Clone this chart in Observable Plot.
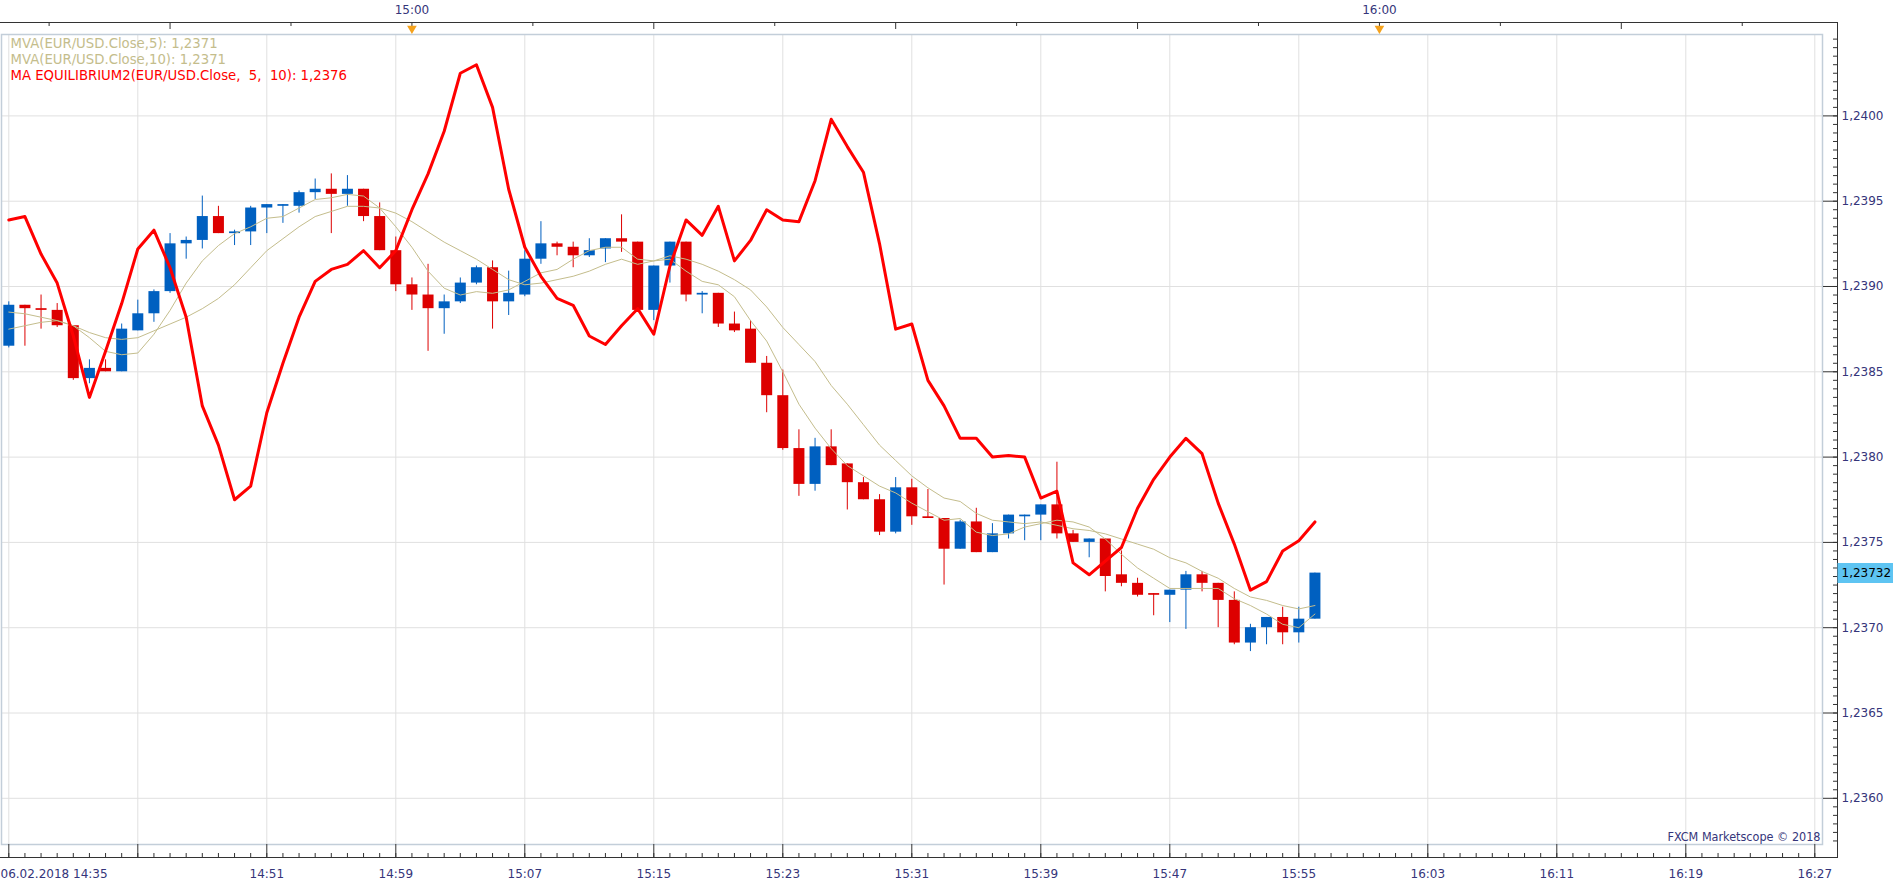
<!DOCTYPE html>
<html><head><meta charset="utf-8">
<script src="https://cdn.jsdelivr.net/npm/d3@7"></script>
<script src="https://cdn.jsdelivr.net/npm/@observablehq/plot@0.6"></script>
<style>
html,body{margin:0;padding:0;background:#fff;overflow:hidden;}
#chart svg{display:block;}
</style></head><body><div id="chart"></div>
<script>
// EUR/USD 1-minute candles, 06.02.2018 from 14:35 (index = minutes after 14:35)
const open = [1.23865,1.23889,1.23887,1.23886,1.23877,1.23846,1.23852,1.23850,1.23874,1.23884,
1.23897,1.23925,1.23927,1.23941,1.23931,1.23932,1.23946,1.23947,1.23947,1.23955,
1.23957,1.23954,1.23957,1.23941,1.23921,1.23901,1.23895,1.23887,1.23891,1.23902,
1.23911,1.23891,1.23895,1.23916,1.23925,1.23923,1.23918,1.23922,1.23928,1.23926,
1.23886,1.23912,1.23926,1.23895,1.23896,1.23878,1.23875,1.23855,1.23836,1.23805,
1.23784,1.23806,1.23796,1.23785,1.23775,1.23756,1.23782,1.23765,1.23764,1.23746,
1.23762,1.23744,1.23755,1.23765,1.23766,1.23772,1.23755,1.23750,1.23752,1.23731,
1.23726,1.23720,1.23719,1.23722,1.23731,1.23726,1.23716,1.23691,1.23700,1.23706,
1.23697,1.23705];
const high = [1.23891,1.23889,1.23895,1.23890,1.23877,1.23857,1.23857,1.23878,1.23892,1.23898,
1.23931,1.23929,1.23953,1.23947,1.23933,1.23947,1.23948,1.23948,1.23956,1.23963,
1.23966,1.23965,1.23957,1.23949,1.23929,1.23905,1.23913,1.23895,1.23905,1.23912,
1.23915,1.23909,1.23921,1.23938,1.23926,1.23926,1.23928,1.23928,1.23942,1.23926,
1.23912,1.23926,1.23926,1.23897,1.23896,1.23885,1.23880,1.23859,1.23851,1.23816,
1.23811,1.23816,1.23796,1.23788,1.23778,1.23788,1.23787,1.23781,1.23764,1.23763,
1.23770,1.23761,1.23766,1.23766,1.23772,1.23797,1.23757,1.23752,1.23752,1.23745,
1.23729,1.23720,1.23722,1.23733,1.23733,1.23726,1.23721,1.23702,1.23706,1.23712,
1.23712,1.23732];
const low = [1.23864,1.23865,1.23875,1.23876,1.23845,1.23843,1.23850,1.23850,1.23874,1.23879,
1.23896,1.23916,1.23922,1.23931,1.23924,1.23924,1.23931,1.23937,1.23943,1.23951,
1.23931,1.23947,1.23938,1.23921,1.23897,1.23886,1.23862,1.23872,1.23890,1.23901,
1.23875,1.23883,1.23894,1.23913,1.23918,1.23911,1.23917,1.23914,1.23920,1.23885,
1.23880,1.23902,1.23891,1.23884,1.23876,1.23873,1.23855,1.23826,1.23804,1.23777,
1.23780,1.23795,1.23769,1.23775,1.23754,1.23755,1.23760,1.23764,1.23725,1.23746,
1.23744,1.23744,1.23752,1.23751,1.23751,1.23752,1.23750,1.23741,1.23721,1.23724,
1.23718,1.23707,1.23703,1.23699,1.23721,1.23700,1.23690,1.23686,1.23690,1.23690,
1.23691,1.23705];
const close = [1.23889,1.23887,1.23886,1.23877,1.23846,1.23852,1.23850,1.23875,1.23884,1.23897,
1.23925,1.23927,1.23941,1.23931,1.23932,1.23946,1.23948,1.23948,1.23955,1.23957,
1.23954,1.23957,1.23941,1.23921,1.23901,1.23895,1.23887,1.23891,1.23902,1.23911,
1.23891,1.23896,1.23916,1.23925,1.23923,1.23918,1.23921,1.23928,1.23926,1.23886,
1.23912,1.23926,1.23895,1.23896,1.23878,1.23874,1.23855,1.23836,1.23805,1.23784,
1.23806,1.23795,1.23785,1.23775,1.23756,1.23782,1.23765,1.23764,1.23746,1.23762,
1.23744,1.23755,1.23766,1.23766,1.23772,1.23755,1.23750,1.23752,1.23730,1.23726,
1.23719,1.23719,1.23722,1.23731,1.23726,1.23716,1.23691,1.23700,1.23706,1.23697,
1.23705,1.23732];
const mva5 = [1.23875,1.23877,1.23879,1.23880,1.23877,1.23870,1.23862,1.23860,1.23861,1.23872,
1.23886,1.23902,1.23915,1.23924,1.23931,1.23935,1.23940,1.23941,1.23946,1.23951,
1.23952,1.23954,1.23953,1.23946,1.23935,1.23923,1.23909,1.23899,1.23895,1.23897,
1.23896,1.23898,1.23903,1.23908,1.23910,1.23916,1.23921,1.23923,1.23923,1.23916,
1.23915,1.23916,1.23909,1.23903,1.23901,1.23894,1.23880,1.23868,1.23850,1.23831,
1.23817,1.23805,1.23795,1.23789,1.23783,1.23779,1.23773,1.23768,1.23763,1.23764,
1.23756,1.23754,1.23755,1.23759,1.23761,1.23763,1.23762,1.23759,1.23752,1.23743,
1.23735,1.23729,1.23723,1.23723,1.23723,1.23723,1.23717,1.23713,1.23708,1.23702,
1.23700,1.23708];
const mva10 = [1.23885,1.23884,1.23882,1.23880,1.23877,1.23873,1.23870,1.23869,1.23870,1.23874,
1.23878,1.23882,1.23887,1.23893,1.23901,1.23911,1.23921,1.23928,1.23935,1.23941,
1.23944,1.23947,1.23947,1.23946,1.23943,1.23938,1.23932,1.23926,1.23921,1.23916,
1.23910,1.23904,1.23901,1.23902,1.23904,1.23906,1.23909,1.23913,1.23916,1.23913,
1.23915,1.23918,1.23916,1.23913,1.23909,1.23904,1.23898,1.23888,1.23876,1.23866,
1.23856,1.23842,1.23831,1.23819,1.23807,1.23798,1.23789,1.23782,1.23776,1.23774,
1.23767,1.23763,1.23762,1.23761,1.23762,1.23760,1.23758,1.23757,1.23755,1.23752,
1.23749,1.23746,1.23741,1.23738,1.23733,1.23729,1.23723,1.23718,1.23716,1.23713,
1.23711,1.23713];
const equilibrium = [1.23939,1.23941,1.23919,1.23902,1.23871,1.23835,1.23862,1.23890,1.23922,1.23933,
1.23911,1.23882,1.23830,1.23807,1.23775,1.23783,1.23826,1.23855,1.23882,1.23903,
1.23910,1.23913,1.23921,1.23911,1.23921,1.23945,1.23966,1.23991,1.24025,1.24030,
1.24005,1.23957,1.23923,1.23906,1.23893,1.23889,1.23871,1.23866,1.23877,1.23887,
1.23872,1.23912,1.23939,1.23930,1.23947,1.23915,1.23927,1.23945,1.23939,1.23938,
1.23962,1.23998,1.23982,1.23967,1.23925,1.23875,1.23878,1.23845,1.23830,1.23811,
1.23811,1.23800,1.23801,1.23800,1.23776,1.23780,1.23738,1.23731,1.23739,1.23747,
1.23770,1.23787,1.23800,1.23811,1.23802,1.23773,1.23749,1.23722,1.23727,1.23745,
1.23751,1.23762];

// axis ticks and labels
const bottomTickMinutes = [0,8,16,24,32,40,48,56,64,72,80,88,96,104,112];
const bottomLabelMinutes = [16,24,32,40,48,56,64,72,80,88,96,104,112];
const bottomLabels = ["14:51","14:59","15:07","15:15","15:23","15:31","15:39","15:47","15:55","16:03","16:11","16:19","16:27"];
const firstLabel = "06.02.2018 14:35";
const topLabelMinutes = [25, 85];
const topLabels = ["15:00", "16:00"];
const priceTicks = [1.2360,1.2365,1.2370,1.2375,1.2380,1.2385,1.2390,1.2395,1.2400];

const BLUE = "#0060c0", RED = "#dd0000", EQ = "#ff0000", KHAKI = "#c4bd8c";
const GRID = "#e0e0e0", NAVY = "#35357a", BORDER = "#c3ced9", AXIS = "#333333";
const FONT = "DejaVu Sans";

const fmt4 = v => v.toFixed(4).replace(".", ",");
const fmt5 = v => v.toFixed(5).replace(".", ",");

const candles = close.map((c, i) => ({m: i, open: open[i], high: high[i], low: low[i], close: c, up: c >= open[i]}));
const lines = close.map((c, i) => ({m: i, mva5: mva5[i], mva10: mva10[i], eq: equilibrium[i]}));
const upC = candles.filter(d => d.up), dnC = candles.filter(d => !d.up);
const lastClose = close[close.length - 1];

// tick positions (no data): half-pip price ticks, one-minute time ticks
const minorPriceTicks = d3.range(24715, 24810).map(v => v * 0.00005);
const minorMinuteTicks = d3.range(0, 113, 1);
const topMinor = d3.range(2.5, 113, 15);
const topMajor = d3.range(10, 113, 15);

const legend1 = `MVA(EUR/USD.Close,5): ${fmt4(mva5[mva5.length - 1])}`;
const legend2 = `MVA(EUR/USD.Close,10): ${fmt4(mva10[mva10.length - 1])}`;
const legend3 = `MA EQUILIBRIUM2(EUR/USD.Close,\u00a0 5,\u00a0 10): ${fmt4(equilibrium[equilibrium.length - 1])}`;

const chart = Plot.plot({
  width: 1903,
  height: 887,
  marginLeft: 1,
  marginRight: 81,
  marginTop: 34,
  marginBottom: 43,
  style: {fontFamily: FONT, fontSize: "12px", background: "#fff", overflow: "visible"},
  x: {type: "linear", domain: [-0.4527, 112.477], label: null},
  y: {domain: [1.2357292, 1.2404771], label: null},
  marks: [
    Plot.gridX(bottomTickMinutes, {stroke: GRID, strokeOpacity: 1}),
    Plot.gridY(priceTicks, {stroke: GRID, strokeOpacity: 1}),
    // outer axis box (left side scrolled off)
    Plot.frame({stroke: AXIS, insetTop: -12, insetBottom: -13, insetRight: -15, insetLeft: -20}),
    Plot.frame({stroke: BORDER, strokeWidth: 1.5}),
    // bottom axis ticks
    Plot.axisX(bottomTickMinutes, {anchor: "bottom", tickSize: 13, fill: "none", stroke: AXIS, label: null}),
    Plot.axisX(minorMinuteTicks, {anchor: "bottom", tickSize: 4, dy: 9, fill: "none", stroke: AXIS, label: null}),
    Plot.text(bottomLabelMinutes, {x: d => d, text: (d, i) => bottomLabels[i], frameAnchor: "bottom", lineAnchor: "middle", dy: 30, fill: NAVY, fontSize: 12}),
    Plot.text([0], {x: d => d, text: () => firstLabel, frameAnchor: "bottom", lineAnchor: "middle", dy: 30, dx: -8.3, textAnchor: "start", fill: NAVY, fontSize: 12}),
    // top axis ticks
    Plot.axisX(topMajor, {anchor: "top", tickSize: 6, dy: -6, fill: "none", stroke: AXIS, label: null}),
    Plot.axisX(topMinor, {anchor: "top", tickSize: 3, dy: -9, fill: "none", stroke: AXIS, label: null}),
    Plot.text(topLabelMinutes, {x: d => d, text: (d, i) => topLabels[i], frameAnchor: "top", lineAnchor: "middle", dy: -24, fill: NAVY, fontSize: 12}),
    Plot.dot(topLabelMinutes, {x: d => d, frameAnchor: "top", dy: -6, symbol: "triangle", r: 3.6, rotate: 180, fill: "#f5a21c", stroke: null}),
    // right axis
    Plot.axisY(priceTicks, {anchor: "right", tickSize: 15, tickPadding: 4, tickFormat: fmt4, stroke: AXIS, fill: NAVY, fontSize: 12, label: null}),
    Plot.axisY(minorPriceTicks, {anchor: "right", tickSize: 5, dx: 10, fill: "none", stroke: AXIS, label: null}),
    // candles
    Plot.ruleX(upC, {x: "m", y1: "low", y2: "high", stroke: BLUE, strokeWidth: 1}),
    Plot.ruleX(dnC, {x: "m", y1: "low", y2: "high", stroke: RED, strokeWidth: 1}),
    Plot.ruleX(upC, {x: "m", y1: "open", y2: "close", stroke: BLUE, strokeWidth: 11}),
    Plot.ruleX(dnC, {x: "m", y1: "open", y2: "close", stroke: RED, strokeWidth: 11}),
    // indicators
    Plot.line(lines, {x: "m", y: "mva10", stroke: KHAKI, strokeWidth: 1}),
    Plot.line(lines, {x: "m", y: "mva5", stroke: KHAKI, strokeWidth: 1}),
    Plot.line(lines, {x: "m", y: "eq", stroke: EQ, strokeWidth: 3}),
    // legend
    Plot.text([legend1], {frameAnchor: "top-left", lineAnchor: "middle", dx: 9, dy: 9, text: d => d, fill: KHAKI, textAnchor: "start", fontSize: 13.25}),
    Plot.text([legend2], {frameAnchor: "top-left", lineAnchor: "middle", dx: 9, dy: 25, text: d => d, fill: KHAKI, textAnchor: "start", fontSize: 13.25}),
    Plot.text([legend3], {frameAnchor: "top-left", lineAnchor: "middle", dx: 9, dy: 41, text: d => d, fill: EQ, textAnchor: "start", fontSize: 13.25}),
    // price tag
    Plot.ruleY([lastClose], {y: d => d, stroke: "#5ec4f2", strokeWidth: 20, insetLeft: 1836.5, insetRight: -71}),
    Plot.text([lastClose], {y: d => d, text: d => fmt5(d), frameAnchor: "right", lineAnchor: "middle", dx: 19, textAnchor: "start", fill: "#000", fontSize: 12}),
    Plot.text(["FXCM Marketscope \u00a9 2018"], {frameAnchor: "bottom-right", lineAnchor: "middle", dx: -2, dy: -8, text: d => d, textAnchor: "end", fill: NAVY, fontSize: 12.5, fontFamily: "DejaVu Sans Condensed"})
  ]
});
document.getElementById("chart").appendChild(chart);
</script></body></html>
